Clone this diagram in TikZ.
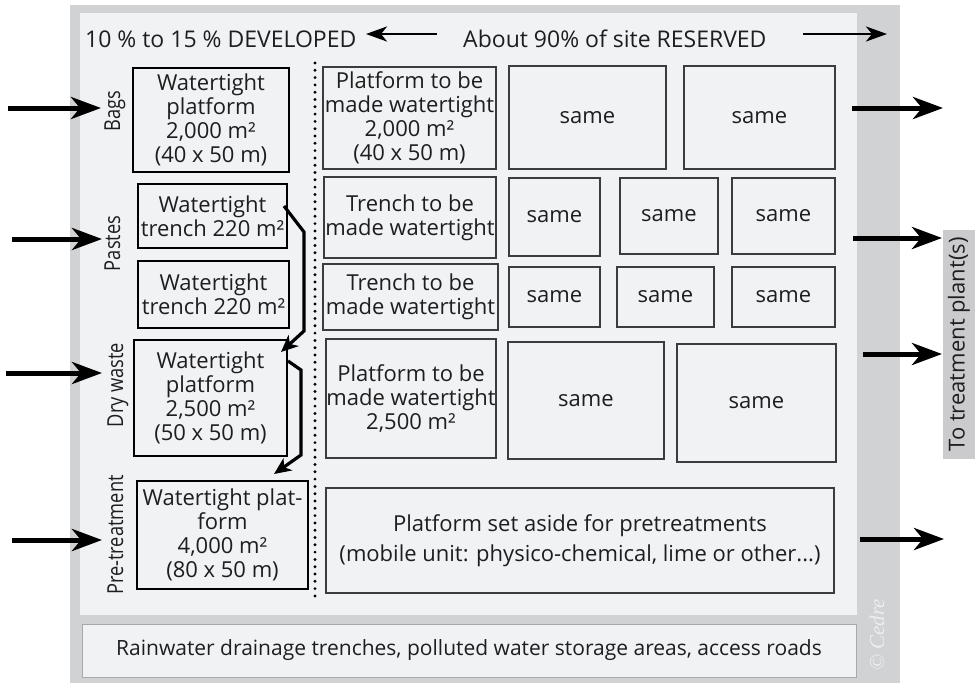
\documentclass[tikz,border=0pt]{standalone}
\usepackage{fontspec}
\setmainfont{Open Sans}
\newfontfamily\narrowsans[FakeStretch=0.83]{Open Sans}
\newfontfamily\serifcopy{Liberation Serif}
\usetikzlibrary{arrows.meta,calc}
\definecolor{panel}{HTML}{F1F2F4}
\definecolor{frame}{HTML}{D1D2D4}
\definecolor{ink}{HTML}{1E1E1E}
\definecolor{edge}{HTML}{3C3C3C}
\definecolor{tab}{HTML}{CBCBCD}
\definecolor{rainedge}{HTML}{A8A9AB}
\definecolor{copyink}{HTML}{EEEEEF}

\begin{document}
\begin{tikzpicture}[x=1pt,y=-1pt,
  txt/.style={font=\fontsize{22}{24}\selectfont, text=ink, align=center, inner sep=0pt},
  devbox/.style={txt, draw=black, line width=2pt, fill=panel},
  resbox/.style={txt, draw=edge, line width=1.3pt, fill=panel},
  side/.style={txt, font=\narrowsans\fontsize{22}{24}\selectfont, rotate=90, anchor=base},
  bigarrow/.style={line width=5pt, -{Stealth[length=30pt,width=22pt,inset=9pt]}},
  toparrow/.style={line width=2.8pt, -{Stealth[length=21pt,width=15pt,inset=6pt]}},
  conn/.style={line width=3.2pt, line join=miter, -{Stealth[length=17pt,width=15pt,inset=5pt]}},
  dotline/.style={line width=3.2pt, line cap=round, dash pattern=on 0pt off 7.3pt}
]
\useasboundingbox (0,0) rectangle (975,683);

% site frame and inner area
\fill[frame] (70,5) rectangle (900,683);
\fill[panel] (80,13) rectangle (857,615);

% headings
\node[txt, font=\fontsize{23}{25}\selectfont, anchor=base west] (dev) at (85,47) {10 \% to 15 \% DEVELOPED};
\node[txt, font=\fontsize{23}{25}\selectfont, anchor=base west] (res) at (463,47) {About 90\% of site RESERVED};
\coordinate (devtail) at (437,34);
\coordinate (devtip) at (366,34);
\coordinate (restail) at (803,34);
\coordinate (restip) at (887,34);
\draw[toparrow] (devtail) -- (devtip);
\draw[toparrow] (restail) -- (restip);

% waste type labels
\node[side] (lbags) at (120,111) {Bags};
\node[side] (lpastes) at (120,243.5) {Pastes};
\node[side] (ldry) at (123,385) {Dry waste};
\node[side] (lpre) at (123,535) {Pre-treatment};

% developed areas
\node[devbox, minimum width=156pt, minimum height=104pt] (b1) at (211,120)
  {Watertight\\platform\\2,000 m²\\(40 x 50 m)};
\node[devbox, minimum width=149pt, minimum height=64pt] (b2) at (212.5,216)
  {Watertight\\trench 220 m²};
\node[devbox, minimum width=151pt, minimum height=67pt] (b3) at (213.5,294.5)
  {Watertight\\trench 220 m²};
\node[devbox, minimum width=153pt, minimum height=116pt] (b4) at (210.5,398)
  {Watertight\\platform\\2,500 m²\\(50 x 50 m)};
\node[devbox, minimum width=171pt, minimum height=108pt] (b5) at (222.5,535)
  {Watertight plat-\\form\\4,000 m²\\(80 x 50 m)};

% transfers between developed areas
\draw[conn] ($(b2.north east)+(-4,23)$) -- ($(b2.north east)+(16,49)$)
  -- ($(b4.north east)+(16,-8)$) -- ($(b4.north east)+(-7,13)$);
\draw[conn] ($(b4.north east)+(0,22)$) -- ($(b4.north east)+(13,31)$)
  -- ($(b5.north east)+(-8,-25)$) -- ($(b5.north east)+(-35,-6)$);

% boundary between developed and reserved parts
\draw[dotline] (315,63) -- (315,597);

% reserved areas
\node[resbox, minimum width=173pt, minimum height=102pt] (m1) at (409.5,118)
  {Platform to be\\made watertight\\2,000 m²\\(40 x 50 m)};
\node[resbox, minimum width=172pt, minimum height=81pt] (m2) at (410,217.5)
  {Trench to be\\made watertight};
\node[resbox, minimum width=175pt, minimum height=66pt] (m3) at (410.5,297)
  {Trench to be\\made watertight};
\node[resbox, minimum width=170pt, minimum height=119pt] (m4) at (411,398.5)
  {Platform to be\\made watertight\\2,500 m²};
\node[resbox, minimum width=508pt, minimum height=105pt, font=\fontsize{22}{30}\selectfont] (m5) at (580,540.5)
  {Platform set aside for pretreatments\\(mobile unit: physico-chemical, lime or other...)};

\node[resbox, minimum width=157pt, minimum height=103pt] (s11) at (587.5,117.5) {same};
\node[resbox, minimum width=151pt, minimum height=103pt] (s12) at (759.5,117.5) {same};
\node[resbox, minimum width=91pt, minimum height=78pt] (s21) at (554.5,217) {same};
\node[resbox, minimum width=98pt, minimum height=76pt] (s22) at (669,216) {same};
\node[resbox, minimum width=103pt, minimum height=76pt] (s23) at (783.5,216) {same};
\node[resbox, minimum width=91pt, minimum height=60pt] (s31) at (554.5,297) {same};
\node[resbox, minimum width=97pt, minimum height=60pt] (s32) at (665.5,297) {same};
\node[resbox, minimum width=103pt, minimum height=60pt] (s33) at (783.5,297) {same};
\node[resbox, minimum width=156pt, minimum height=117pt] (s41) at (586,400.5) {same};
\node[resbox, minimum width=159pt, minimum height=118pt] (s42) at (756.5,403) {same};

% drainage strip
\node[txt, font=\fontsize{21}{23}\selectfont, draw=rainedge, line width=1pt, fill=panel, minimum width=774pt, minimum height=53pt] (rain) at (469,650.5)
  {Rainwater drainage trenches, polluted water storage areas, access roads};
\node[rotate=90, inner sep=0pt, text=copyink, font=\serifcopy\itshape\fontsize{21}{21}\selectfont] (copy) at (877,635) {© Cedre};

% outlet to treatment
\node[txt, fill=tab, rotate=90, minimum width=229pt, minimum height=32pt] (plant) at (959,344.5) {To treatment plant(s)};

% incoming flows
\coordinate (in1) at (8,108);   \coordinate (in1e) at (101,108);
\coordinate (in2) at (12,239);  \coordinate (in2e) at (102,239);
\coordinate (in3) at (6,373);   \coordinate (in3e) at (102,373);
\coordinate (in4) at (12,540);  \coordinate (in4e) at (102,540);
\draw[bigarrow] (in1) -- (in1e);
\draw[bigarrow] (in2) -- (in2e);
\draw[bigarrow] (in3) -- (in3e);
\draw[bigarrow] (in4) -- (in4e);

% outgoing flows
\coordinate (out1) at (852,108); \coordinate (out1e) at (943,108);
\coordinate (out2) at (853,238); \coordinate (out2e) at (942,238);
\coordinate (out3) at (863,354); \coordinate (out3e) at (942,354);
\coordinate (out4) at (860,539); \coordinate (out4e) at (944,539);
\draw[bigarrow] (out1) -- (out1e);
\draw[bigarrow] (out2) -- (out2e);
\draw[bigarrow] (out3) -- (out3e);
\draw[bigarrow] (out4) -- (out4e);
\end{tikzpicture}
\end{document}
